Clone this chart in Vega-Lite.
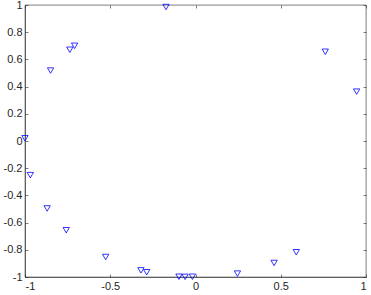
{
  "$schema": "https://vega.github.io/schema/vega-lite/v6.json",
  "autosize": "none",
  "width": 341,
  "height": 272,
  "padding": {"left": 25, "top": 5, "right": 5, "bottom": 18},
  "background": "white",
  "config": {
    "view": {"stroke": "#262626", "strokeWidth": 0.6},
    "axis": {
      "grid": false,
      "domainColor": "#262626",
      "domainWidth": 0.6,
      "tickColor": "#262626",
      "tickWidth": 0.6,
      "tickSize": -3,
      "labelFont": "Liberation Sans",
      "labelFontSize": 11,
      "labelColor": "#262626",
      "title": null
    }
  },
  "data": {"values": [
    {"x": -0.173, "y": 0.985},
    {"x": -0.709, "y": 0.700},
    {"x": -0.737, "y": 0.671},
    {"x": -0.850, "y": 0.518},
    {"x": -1.000, "y": 0.020},
    {"x": 0.761, "y": 0.656},
    {"x": 0.945, "y": 0.363},
    {"x": -0.969, "y": -0.251},
    {"x": -0.870, "y": -0.496},
    {"x": -0.758, "y": -0.656},
    {"x": -0.527, "y": -0.853},
    {"x": -0.320, "y": -0.951},
    {"x": -0.286, "y": -0.965},
    {"x": -0.097, "y": -0.998},
    {"x": -0.061, "y": -0.999},
    {"x": -0.018, "y": -0.998},
    {"x": 0.246, "y": -0.975},
    {"x": 0.461, "y": -0.897},
    {"x": 0.591, "y": -0.818}
  ]},
  "layer": [
    {
      "mark": {"type": "point", "shape": "triangle-down", "filled": false, "stroke": "#0000ff", "strokeWidth": 0.8, "size": 40, "clip": false, "opacity": 1},
      "encoding": {
        "x": {"field": "x", "type": "quantitative", "scale": {"domain": [-1, 1], "nice": false, "zero": false},
              "axis": {"orient": "bottom", "values": [-1, -0.5, 0, 0.5, 1], "labelExpr": "toString(datum.value)", "labelPadding": 6}},
        "y": {"field": "y", "type": "quantitative", "scale": {"domain": [-1, 1], "nice": false, "zero": false},
              "axis": {"orient": "left", "values": [-1, -0.8, -0.6, -0.4, -0.2, 0, 0.2, 0.4, 0.6, 0.8, 1], "labelExpr": "toString(datum.value)", "labelPadding": 6}}
      }
    },
    {
      "mark": {"type": "point", "opacity": 0},
      "encoding": {
        "x": {"field": "x", "type": "quantitative",
              "axis": {"orient": "top", "values": [-1, -0.5, 0, 0.5, 1], "labels": false, "domain": false}},
        "y": {"field": "y", "type": "quantitative",
              "axis": {"orient": "right", "values": [-1, -0.8, -0.6, -0.4, -0.2, 0, 0.2, 0.4, 0.6, 0.8, 1], "labels": false, "domain": false}}
      }
    }
  ],
  "resolve": {"axis": {"x": "independent", "y": "independent"}}
}
